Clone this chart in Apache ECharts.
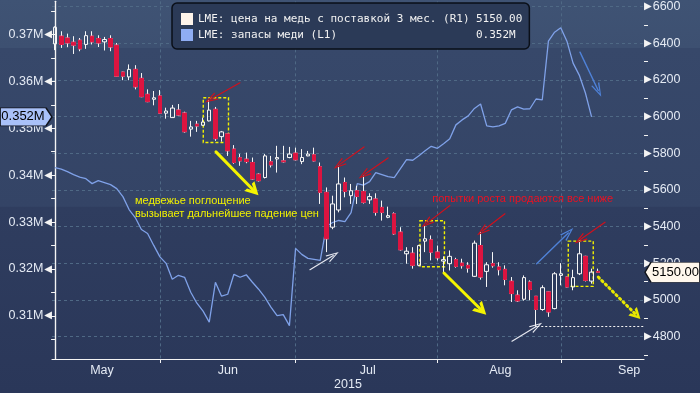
<!DOCTYPE html>
<html><head><meta charset="utf-8">
<script src="https://cdn.jsdelivr.net/npm/echarts@6/dist/echarts.min.js"></script>
<style>html,body{margin:0;padding:0;background:#33425f}#c{width:700px;height:393px}</style>
</head><body><div id="c"></div>
<script>
// ---------------- DATA ----------------
const dates = [
'2015-05-06','2015-05-07','2015-05-08','2015-05-11','2015-05-12','2015-05-13','2015-05-14','2015-05-15','2015-05-18','2015-05-19','2015-05-20','2015-05-21','2015-05-22','2015-05-26','2015-05-27','2015-05-28','2015-05-29',
'2015-06-01','2015-06-02','2015-06-03','2015-06-04','2015-06-05','2015-06-08','2015-06-09','2015-06-10','2015-06-11','2015-06-12','2015-06-15','2015-06-16','2015-06-17','2015-06-18','2015-06-19','2015-06-22','2015-06-23','2015-06-24','2015-06-25','2015-06-26','2015-06-29','2015-06-30',
'2015-07-01','2015-07-02','2015-07-03','2015-07-06','2015-07-07','2015-07-08','2015-07-09','2015-07-10','2015-07-13','2015-07-14','2015-07-15','2015-07-16','2015-07-17','2015-07-20','2015-07-21','2015-07-22','2015-07-23','2015-07-24','2015-07-27','2015-07-28','2015-07-29','2015-07-30','2015-07-31',
'2015-08-03','2015-08-04','2015-08-05','2015-08-06','2015-08-07','2015-08-10','2015-08-11','2015-08-12','2015-08-13','2015-08-14','2015-08-17','2015-08-18','2015-08-19','2015-08-20','2015-08-21','2015-08-24','2015-08-25','2015-08-26','2015-08-27','2015-08-28',
'2015-09-01','2015-09-02','2015-09-03','2015-09-04','2015-09-07','2015-09-08','2015-09-09','2015-09-10','2015-09-11','2015-09-14','2015-09-15','2015-09-16','2015-09-17','2015-09-18'
];
const openP  = [6396,6438,6428,6405,6416,6393,6438,6425,6407,6425,6389,6242,6216,6257,6208,6121,6094,6112,6018,5994,6035,6019,5931,5958,5952,5976,6039,5890,5905,5822,5775,5767,5749,5685,5667,5753,5768,5758,5776,5800,5754,5785,5791,5726,5586,5396,5490,5640,5568,5595,5591,5545,5550,5504,5450,5469,5369,5251,5254,5188,5320,5327,5260,5211,5197,5219,5200,5188,5128,5296,5155,5197,5179,5166,5101,5025,5003,5097,5019,4947,5043,4952,5133,5124,5070,5142,5237,5102,5155];
const closeP = [6487,6393,6401,6389,6369,6441,6407,6401,6420,6379,6220,6220,6257,6162,6108,6081,6102,6018,6030,6046,6008,5917,5943,5948,5970,6035,5879,5916,5813,5749,5758,5754,5659,5650,5785,5736,5776,5753,5795,5764,5776,5795,5758,5586,5333,5523,5632,5591,5595,5564,5532,5563,5477,5477,5459,5360,5273,5265,5188,5296,5333,5260,5229,5219,5237,5182,5186,5173,5309,5124,5191,5186,5164,5111,5034,4994,5121,5056,4947,5066,4934,5142,5142,5070,5121,5251,5106,5151,5150];
const lowP   = [6362,6374,6378,6341,6356,6369,6393,6379,6360,6356,6218,6198,6198,6148,6105,6078,6061,6015,5988,5992,6005,5912,5890,5916,5950,5973,5867,5863,5785,5742,5731,5745,5655,5645,5662,5722,5694,5749,5772,5760,5740,5783,5755,5523,5260,5385,5477,5559,5523,5523,5525,5523,5459,5432,5445,5355,5268,5197,5170,5183,5260,5215,5215,5151,5160,5175,5170,5148,5124,5110,5070,5175,5133,5079,4988,4988,4995,4997,4852,4940,4907,4948,5079,5068,5052,5135,5100,5088,5146];
const highP  = [6492,6465,6452,6438,6428,6465,6465,6443,6434,6443,6401,6244,6284,6280,6237,6148,6139,6144,6048,6063,6068,6026,5976,5976,5994,6090,6052,5921,5907,5844,5796,5803,5776,5690,5795,5785,5840,5840,5834,5830,5822,5812,5830,5749,5613,5568,5731,5667,5632,5622,5677,5581,5581,5541,5508,5477,5396,5287,5287,5300,5405,5351,5296,5237,5269,5229,5224,5205,5323,5369,5205,5260,5205,5188,5124,5052,5133,5106,5020,5079,5045,5151,5200,5126,5164,5323,5240,5170,5170];
const stocks = [341600,341280,340750,340110,339580,339260,338200,338830,338410,337980,337130,335430,332670,330970,328420,327570,325020,322580,321200,317800,318650,318230,315040,312700,311000,308670,317160,314190,314610,318860,318230,318760,317160,315680,313980,311850,310050,310260,307920,324390,323110,322260,322050,321840,329060,329910,330340,330120,332030,338200,337880,338620,340530,340110,339680,339470,341380,343300,343190,344140,345210,346160,345740,346690,347760,350730,351790,352640,354240,355190,350520,350310,350520,351050,353920,354560,354070,354170,356250,356040,368580,370490,371440,368580,363900,361350,357530,352430];

const seriesNames = ['LME: цена на медь с поставкой 3 мес. (R1)', 'LME: запасы меди (L1)'];
const monthTickIdx = [17, 39, 62, 82];
const monthLabelPos = [7.6, 28, 50.7, 72.2, 93.1];
const monthNames = ['May', 'Jun', 'Jul', 'Aug', 'Sep'];
const yearLabelPos = [47.5];
const yearNames = ['2015'];
const priceMajor = [4800,5000,5200,5400,5600,5800,6000,6200,6400,6600];
const priceMinor = [4700,4900,5100,5300,5500,5700,5900,6100,6300,6500];
const stockMajor = [310000,320000,330000,340000,350000,360000,370000];
const stockMinor = [305000,310000,315000,320000,325000,330000,335000,340000,345000,350000,355000,360000,365000,370000,375000];

// annotations in (trading-day index, price) units
const boxes = [[24.03,6102,28.12,5858],[59.17,5431,63.14,5180],[83.22,5320,87.27,5073]];
const yellowArrows = [[26.09,5807,32.25,5595],[63.06,5146,69.17,4943]];
const yellowDotted = [[88.08,5124,94.29,4916]];
const redArrows = [[29.98,6184,25.23,6094],[50.09,5834,46.04,5736],[54.0,5774,50.09,5682],[64.03,5514,60.26,5417],[72.95,5469,69.27,5374],[89.18,5423,85.12,5327]];
const whiteArrows = [[41.33,5164,45.11,5242],[74.09,4774,78.09,4856]];
const blueArrows = [[78.09,5197,83.22,5365],[85.12,6351,88.08,6142]];
const supportLine = [78.19, 4856, 95.5];
const yellowText = ['медвежье поглощение', 'вызывает дальнейшее падение цен'];
const yellowTextAt = [12.96, 5503];
const redText = 'попытки роста продаются все ниже';
const redTextAt = [61.16, 5550];

// ---------------- CHART ----------------
const X_MIN = -0.5, X_MAX = dates.length - 0.5;
const P_MIN = 4677, P_MAX = 6628, S_MIN = 300800, S_MAX = 377070;
const lastPrice = closeP[closeP.length - 1];
const lastStock = stocks[stocks.length - 1];

const candleData = dates.map((d, i) => i < openP.length ? [openP[i], closeP[i], lowP[i], highP[i]] : '-');
const bearBodies = dates.map((d, i) => (i < openP.length && closeP[i] < openP[i]) ? [openP[i], closeP[i], closeP[i], openP[i]] : '-');

const AX = '#e4eaf4';
const GRID = '#4f6985';
const FONT = 'Liberation Sans';
const chev = 'path://M5,0 L10,14 L8.4,14 L5,3.6 L1.6,14 L0,14 Z';
const chevThick = 'path://M5,0 L10,10 L7.4,10 L5,4.6 L2.6,10 L0,10 Z';

function arrowItems(list, color, width, sym, symSize, type) {
  return list.map(a => [
    {coord: [a[0], a[1]], symbol: 'none', lineStyle: {color: color, width: width, type: type || 'solid', cap: 'round'}},
    {coord: [a[2], a[3]], symbol: sym, symbolSize: symSize, itemStyle: {color: color}}
  ]);
}

const chart = echarts.init(document.getElementById('c'), null, {renderer: 'canvas'});
chart.setOption({
  animation: false,
  backgroundColor: {type: 'linear', x: 0, y: 0, x2: 0, y2: 1, colorStops: [
    {offset: 0, color: '#3f5374'}, {offset: 0.122, color: '#3d5071'},
    {offset: 0.123, color: '#37486a'}, {offset: 0.525, color: '#344466'},
    {offset: 0.527, color: '#2f3d5f'}, {offset: 1, color: '#2a3759'}]},
  grid: {left: 52, right: 56, top: 0, bottom: 34},
  legend: {
    left: 172, top: 3, orient: 'vertical', selectedMode: false,
    backgroundColor: '#2b3a57', borderColor: '#0a0f18', borderWidth: 1.5, borderRadius: 5,
    padding: [10, 7, 8, 9], itemGap: 4, itemWidth: 12, itemHeight: 12, icon: 'rect',
    data: [
      {name: seriesNames[0], itemStyle: {color: '#fdf3ea', borderWidth: 0}},
      {name: seriesNames[1], itemStyle: {color: '#8fadf3', borderWidth: 0}}
    ],
    formatter: function (name) {
      const v = name === seriesNames[0] ? lastPrice.toFixed(2) : (lastStock / 1e6).toFixed(3) + 'M';
      return '{n|' + name + '}{v|' + v + '}';
    },
    textStyle: {color: '#f2f2f2', fontFamily: 'DejaVu Sans Mono', fontSize: 11,
      rich: {n: {width: 278, fontFamily: 'DejaVu Sans Mono', fontSize: 11, color: '#f2f2f2'},
             v: {fontFamily: 'DejaVu Sans Mono', fontSize: 11, color: '#f2f2f2'}}}
  },
  xAxis: [
    {type: 'category', data: dates, boundaryGap: true, show: false},
    {type: 'value', min: X_MIN, max: X_MAX, position: 'bottom',
      axisLine: {show: true, lineStyle: {color: '#f4f4f4', width: 1.2}},
      axisTick: {show: true, length: 4, customValues: monthTickIdx, lineStyle: {color: '#f4f4f4'}},
      axisLabel: {show: true, customValues: monthLabelPos, margin: 5, color: AX, fontFamily: FONT, fontSize: 12.5,
        formatter: v => monthNames[monthLabelPos.indexOf(v)] || ''},
      splitLine: {show: true, lineStyle: {color: GRID, type: [3, 3], width: 1}}},
    {type: 'value', min: X_MIN, max: X_MAX, position: 'bottom', offset: 14,
      axisLine: {show: false}, axisTick: {show: false}, splitLine: {show: false},
      axisLabel: {show: true, customValues: yearLabelPos, margin: 5, color: AX, fontFamily: FONT, fontSize: 12.5,
        formatter: v => yearNames[yearLabelPos.indexOf(v)] || ''}}
  ],
  yAxis: [
    {type: 'value', position: 'left', min: S_MIN, max: S_MAX,
      axisLine: {show: true, lineStyle: {color: '#f4f4f4', width: 1.2}},
      axisTick: {show: true, length: 4, customValues: stockMinor, lineStyle: {color: '#f4f4f4'}},
      axisLabel: {show: true, customValues: stockMajor, margin: 0, color: AX, fontFamily: FONT, fontSize: 12.5,
        formatter: v => '{v|' + (v / 1e6).toFixed(2) + 'M}{t|◀}',
        rich: {v: {color: AX, fontFamily: FONT, fontSize: 12.5, padding: [0, 1, 0, 0]},
               t: {color: '#f4f4f4', fontFamily: 'DejaVu Sans', fontSize: 10}}},
      splitLine: {show: false}},
    {type: 'value', position: 'right', min: P_MIN, max: P_MAX,
      axisLine: {show: true, lineStyle: {color: '#f4f4f4', width: 1.2}},
      axisTick: {show: false, customValues: priceMajor},
      axisLabel: {show: true, customValues: priceMajor, margin: 0, color: AX, fontFamily: FONT, fontSize: 12.5,
        formatter: v => '{t|▶}{v|' + v + '}',
        rich: {v: {color: AX, fontFamily: FONT, fontSize: 12.5, padding: [0, 0, 0, 1]},
               t: {color: '#f4f4f4', fontFamily: 'DejaVu Sans', fontSize: 10}}},
      splitLine: {show: true, lineStyle: {color: GRID, type: [3, 3], width: 1}}},
    {type: 'value', position: 'right', min: P_MIN, max: P_MAX,
      axisLine: {show: false}, axisLabel: {show: false}, splitLine: {show: false},
      axisTick: {show: true, length: 4, customValues: priceMinor, lineStyle: {color: '#f4f4f4'}}}
  ],
  series: [
    {name: seriesNames[1], type: 'line', xAxisIndex: 0, yAxisIndex: 0, data: stocks,
      symbol: 'none', lineStyle: {color: '#7fa1e8', width: 1.3}, itemStyle: {color: '#8fadf3'}, z: 2},
    {name: seriesNames[0], type: 'candlestick', xAxisIndex: 0, yAxisIndex: 1, data: candleData, barWidth: 4,
      itemStyle: {color: 'transparent', color0: '#dc1440', borderColor: '#f6f6f6', borderColor0: '#f6f6f6', borderWidth: 1}, z: 3},
    {name: 'bodies', type: 'candlestick', xAxisIndex: 0, yAxisIndex: 1, data: bearBodies, barWidth: 4,
      itemStyle: {color: '#dc1440', color0: '#dc1440', borderColor: '#dc1440', borderColor0: '#dc1440', borderWidth: 1}, z: 4},
    {name: 'annot', type: 'line', xAxisIndex: 1, yAxisIndex: 1, data: [], clip: false, z: 6,
      markArea: {silent: true, data: boxes.map(b => [
        {coord: [b[0], b[1]], itemStyle: {color: 'rgba(0,0,0,0)', borderColor: '#f2f200', borderWidth: 1.4, borderType: [3, 2]}},
        {coord: [b[2], b[3]]}])},
      markLine: {silent: true, symbol: ['none', 'none'], label: {show: false}, emphasis: {disabled: true},
        data: [].concat(
          arrowItems(yellowArrows, '#f4f400', 3, chevThick, [14, 13]),
          arrowItems(yellowDotted, '#e8e800', 3, chevThick, [12, 11], [1.5, 3.5]),
          arrowItems(redArrows, '#d0101c', 1.2, chev, [8, 13]),
          arrowItems(whiteArrows, '#e6e8f0', 1.2, chev, [8, 13]),
          arrowItems(blueArrows, '#4f82d8', 1.4, chev, [9, 14]),
          [[{coord: [supportLine[0], supportLine[1]], symbol: 'none', lineStyle: {color: '#f4f4f4', width: 1.2, type: [2, 2]}},
            {coord: [supportLine[2], supportLine[1]], symbol: 'none'}]]
        )},
      markPoint: {silent: true, data: [
        {coord: yellowTextAt, symbol: 'circle', symbolSize: 0,
          label: {show: true, position: 'right', distance: 0, formatter: yellowText.join('\n'), color: '#f0f000',
            fontFamily: FONT, fontSize: 11, lineHeight: 13, align: 'left'}},
        {coord: redTextAt, symbol: 'circle', symbolSize: 0,
          label: {show: true, position: 'right', distance: 0, formatter: redText, color: '#ee1020',
            fontFamily: FONT, fontSize: 11, align: 'left'}},
        {coord: [X_MAX, lastPrice], symbol: 'path://M0,10 L6,0 L55,0 L55,20 L6,20 Z', symbolSize: [55, 20], symbolOffset: [28.5, 0],
          itemStyle: {color: '#fff7ec', borderColor: '#10131a', borderWidth: 1},
          label: {show: true, position: 'inside', offset: [3, 0], formatter: lastPrice.toFixed(2), color: '#000',
            fontFamily: FONT, fontSize: 13}}
      ]}},
    {name: 'tagL', type: 'line', xAxisIndex: 1, yAxisIndex: 0, data: [], clip: false, z: 6,
      markPoint: {silent: true, data: [
        {coord: [X_MIN, lastStock], symbol: 'path://M0,0 L46,0 L52,9 L46,18 L0,18 Z', symbolSize: [52, 18], symbolOffset: [-26, 0],
          itemStyle: {color: '#a9c1f8', borderColor: '#10131a', borderWidth: 1},
          label: {show: true, position: 'inside', offset: [-3, 0], formatter: (lastStock / 1e6).toFixed(3) + 'M', color: '#000',
            fontFamily: FONT, fontSize: 13}}
      ]}}
  ]
});
</script></body></html>
